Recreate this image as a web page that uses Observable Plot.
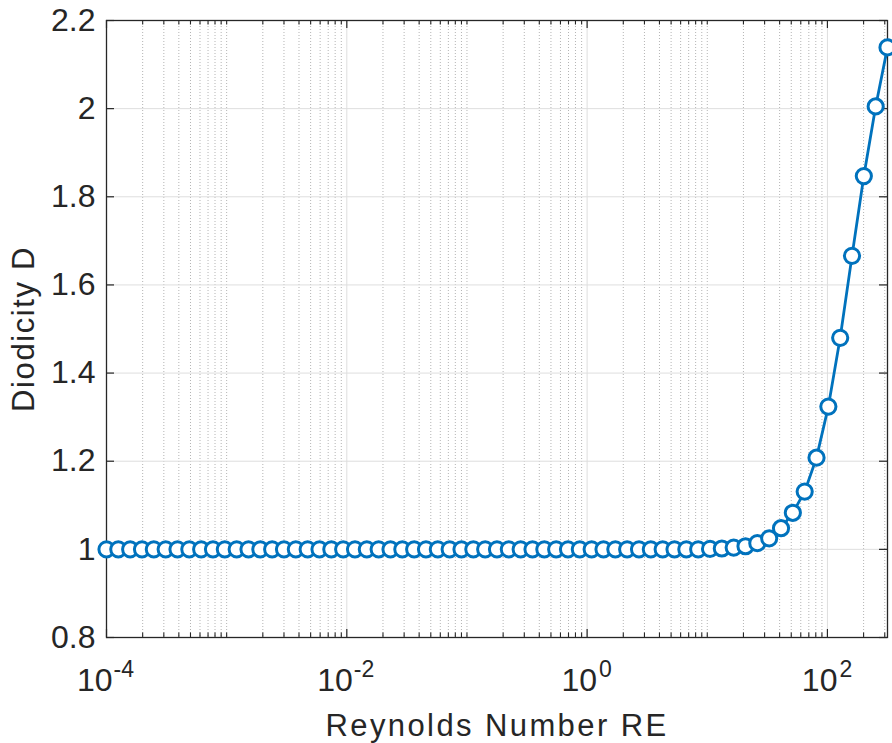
<!DOCTYPE html>
<html>
<head>
<meta charset="utf-8">
<script src="https://cdn.jsdelivr.net/npm/d3@7"></script>
<script src="https://cdn.jsdelivr.net/npm/@observablehq/plot@0.6"></script>
<style>
  html, body { margin: 0; padding: 0; background: #ffffff; }
</style>
</head>
<body>
<div id="chart"></div>
<script>
// Reynolds number (log-spaced samples)
const reynolds = [
  1.000e-4, 1.254e-4, 1.574e-4, 1.975e-4, 2.477e-4, 3.108e-4, 3.899e-4, 4.891e-4, 6.136e-4, 7.698e-4,
  9.657e-4, 1.212e-3, 1.520e-3, 1.907e-3, 2.392e-3, 3.001e-3, 3.765e-3, 4.723e-3, 5.925e-3, 7.433e-3,
  9.326e-3, 1.170e-2, 1.468e-2, 1.841e-2, 2.310e-2, 2.898e-2, 3.636e-2, 4.561e-2, 5.722e-2, 7.178e-2,
  9.006e-2, 0.1130, 0.1418, 0.1778, 0.2231, 0.2799, 0.3511, 0.4405, 0.5526, 0.6933,
  0.8697, 1.091, 1.369, 1.718, 2.154, 2.703, 3.391, 4.254, 5.337, 6.696,
  8.402, 10.54, 13.22, 16.59, 20.81, 26.10, 32.75, 41.09, 51.54, 64.67,
  81.13, 101.8, 127.7, 160.2, 200.9, 252.1, 316.2
];
// Diodicity D
const diodicity = [
  1, 1, 1, 1, 1, 1, 1, 1, 1, 1,
  1, 1, 1, 1, 1, 1, 1, 1, 1, 1,
  1, 1, 1, 1, 1, 1, 1, 1, 1, 1,
  1, 1, 1, 1, 1, 1, 1, 1, 1, 1,
  1, 1, 1, 1, 1, 1, 1, 1, 1, 1,
  1, 1.001, 1.002, 1.004, 1.007, 1.014, 1.025, 1.048, 1.083, 1.131,
  1.208, 1.324, 1.480, 1.666, 1.847, 2.005, 2.139
];
const xDomain = [1e-4, 316.2];
const yDomain = [0.8, 2.2];
const xMajorTicks = [1e-4, 1e-2, 1, 100];
const xNegTicks = [1e-4, 1e-2];
const xNegExp = ["-4", "-2"];
const xPosTicks = [1, 100];
const xPosExp = ["0", "2"];
const yTicks = [0.8, 1, 1.2, 1.4, 1.6, 1.8, 2, 2.2];
const yTickLabels = ["0.8", "1", "1.2", "1.4", "1.6", "1.8", "2", "2.2"];
const xTitle = "Reynolds Number RE";
const yTitle = "Diodicity D";

const data = reynolds.map((x, i) => ({x, y: diodicity[i]}));
const xMinorTicks = d3.scaleLog().domain(xDomain).ticks()
  .filter(t => !xMajorTicks.some(m => Math.abs(Math.log10(t) - Math.log10(m)) < 1e-9));

const FONT = "'Liberation Sans', Arial, Helvetica, sans-serif";
const INK = "#262626";
const BLUE = "#0072BD";

const chart = Plot.plot({
  width: 892,
  height: 743,
  marginLeft: 106,
  marginRight: 5,
  marginTop: 20,
  marginBottom: 106,
  style: {fontFamily: FONT, background: "#ffffff", overflow: "visible"},
  x: {type: "log", domain: xDomain, axis: null},
  y: {domain: yDomain, axis: null},
  marks: [
    // minor (dotted) vertical grid
    Plot.ruleX(xMinorTicks, {x: d => d, stroke: "#b4b4b4", strokeWidth: 1, strokeDasharray: "1,2"}),
    // major grid
    Plot.ruleX(xMajorTicks, {x: d => d, stroke: "#dedede", strokeWidth: 1}),
    Plot.ruleY(yTicks, {y: d => d, stroke: "#dedede", strokeWidth: 1}),
    // box
    Plot.frame({stroke: INK, strokeWidth: 1.3}),
    // x ticks bottom/top (inward)
    Plot.ruleX(xMajorTicks, {x: d => d, y1: yDomain[0], y2: yDomain[0], insetTop: -8, stroke: INK, strokeWidth: 1.2}),
    Plot.ruleX(xMajorTicks, {x: d => d, y1: yDomain[1], y2: yDomain[1], insetBottom: -8, stroke: INK, strokeWidth: 1.2}),
    Plot.ruleX(xMinorTicks, {x: d => d, y1: yDomain[0], y2: yDomain[0], insetTop: -4.5, stroke: INK, strokeWidth: 1.1}),
    Plot.ruleX(xMinorTicks, {x: d => d, y1: yDomain[1], y2: yDomain[1], insetBottom: -4.5, stroke: INK, strokeWidth: 1.1}),
    // y ticks left/right (inward)
    Plot.ruleY(yTicks, {y: d => d, x1: xDomain[0], x2: xDomain[0], insetRight: -8, stroke: INK, strokeWidth: 1.2}),
    Plot.ruleY(yTicks, {y: d => d, x1: xDomain[1], x2: xDomain[1], insetLeft: -8, stroke: INK, strokeWidth: 1.2}),
    // y tick labels
    Plot.text(yTicks, {y: d => d, text: (d, i) => yTickLabels[i], frameAnchor: "left", textAnchor: "end", lineAnchor: "middle", dx: -11, fontSize: 32, fill: INK}),
    // x tick labels: 10^e
    Plot.text(xNegTicks, {x: d => d, text: () => "10", frameAnchor: "bottom", textAnchor: "end", lineAnchor: "bottom", dx: 6, dy: 53, fontSize: 32, fill: INK}),
    Plot.text(xNegTicks, {x: d => d, text: (d, i) => xNegExp[i], frameAnchor: "bottom", textAnchor: "start", lineAnchor: "bottom", dx: 7, dy: 39, fontSize: 23, fill: INK}),
    Plot.text(xPosTicks, {x: d => d, text: () => "10", frameAnchor: "bottom", textAnchor: "end", lineAnchor: "bottom", dx: 10, dy: 53, fontSize: 32, fill: INK}),
    Plot.text(xPosTicks, {x: d => d, text: (d, i) => xPosExp[i], frameAnchor: "bottom", textAnchor: "start", lineAnchor: "bottom", dx: 12, dy: 39, fontSize: 23, fill: INK}),
    // axis titles
    Plot.text([xTitle], {text: d => d, frameAnchor: "bottom", textAnchor: "middle", lineAnchor: "bottom", dy: 98, fontSize: 31, fill: INK}),
    Plot.text([yTitle], {text: d => d, frameAnchor: "left", textAnchor: "middle", lineAnchor: "bottom", rotate: -90, dx: -72.5, fontSize: 31, fill: INK}),
    // data
    Plot.line(data, {x: "x", y: "y", stroke: BLUE, strokeWidth: 2.8}),
    Plot.dot(data, {x: "x", y: "y", r: 7.6, stroke: BLUE, strokeWidth: 3, fill: "#ffffff"})
  ]
});
// wider letter spacing on the axis titles, as in the reference rendering
d3.select(chart).selectAll("text")
  .filter(function () { return this.textContent === xTitle; })
  .style("letter-spacing", "2.4px");
d3.select(chart).selectAll("text")
  .filter(function () { return this.textContent === yTitle; })
  .style("letter-spacing", "1.6px");
document.getElementById("chart").appendChild(chart);
</script>
</body>
</html>
